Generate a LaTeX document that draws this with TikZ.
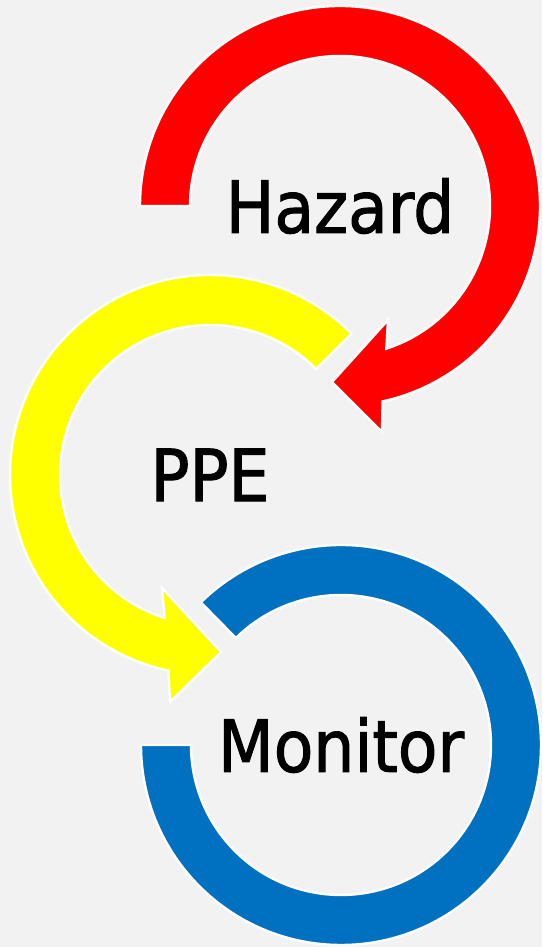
\documentclass[tikz,border=0pt]{standalone}
\usepackage{fontspec}
\newfontfamily\wordfont{DejaVu Sans Condensed}[FakeBold=1.4]
\definecolor{hazardred}{HTML}{FF0000}
\definecolor{ppeyellow}{HTML}{FFFF00}
\definecolor{monitorblue}{HTML}{0070C0}
\definecolor{paper}{HTML}{F2F2F2}
\tikzstyle{ring} = [draw = white, line width = 1.2pt, line join = miter]
\tikzstyle{word} = [font = \wordfont\fontsize{36}{40}\selectfont, text = black, inner sep = 0pt]

\begin{document}
\begin{tikzpicture}[x = 0.5pt, y = 0.5pt]

\fill [paper] (0,0) rectangle (542,947);
\useasboundingbox (0,0) rectangle (542,947);

\node(hazard)  [word] at (340,741) {Hazard};
\node(ppe)     [word] at (210,472) {PPE};
\node(monitor) [word] at (341,202) {Monitor};

\draw [ring, fill = hazardred, shift = {(hazard.center)}] (180:150) -- (180:200)
     arc [start angle = 180, end angle = -77.7, radius = 200] -- (42,-226) -- (-8,-176) -- (48,-114)
     -- (-72:150) arc [start angle = -72, end angle = 180, radius = 150] -- cycle;
\draw [ring, fill = ppeyellow, shift = {(ppe.center)}] (45:150) -- (45:200)
     arc [start angle = 45, end angle = 258, radius = 200] -- (-40,-227) -- (11,-177) -- (-48,-113)
     -- (252.4:150) arc [start angle = 252.4, end angle = 45, radius = 150] -- cycle;
\draw [ring, fill = monitorblue, shift = {(monitor.center)}] (180:150) -- (180:200)
     arc [start angle = 180, end angle = 494.5, radius = 200]
     -- (134.5:150) arc [start angle = 134.5, end angle = -180, radius = 150] -- cycle;

\end{tikzpicture}
\end{document}
